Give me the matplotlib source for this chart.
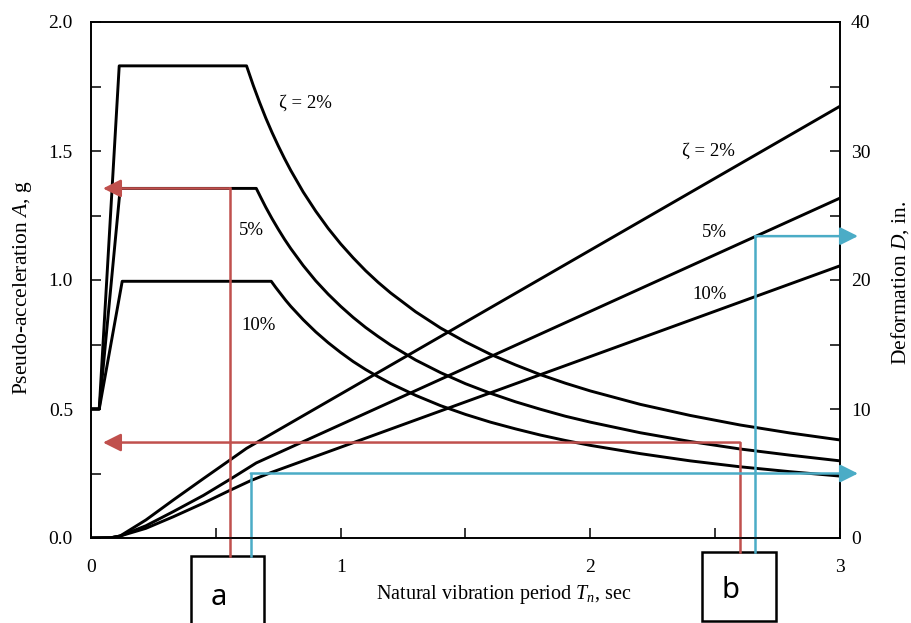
import matplotlib
matplotlib.use("Agg")
import matplotlib.pyplot as plt
from matplotlib.patches import Rectangle
from matplotlib.ticker import MultipleLocator, FormatStrFormatter

plt.rcParams['font.family'] = ['Liberation Serif', 'DejaVu Serif']
plt.rcParams['mathtext.fontset'] = 'custom'
plt.rcParams['mathtext.rm'] = 'Liberation Serif'
plt.rcParams['mathtext.it'] = 'Liberation Serif:italic'

# ---- Pseudo-acceleration spectra (g) ----
period_a_2 = [0, 0.033, 0.113, 0.623, 0.65, 0.675, 0.7, 0.725, 0.75, 0.775, 0.8, 0.85,
              0.9, 0.95, 1.0, 1.05, 1.1, 1.15, 1.2, 1.3, 1.4, 1.5, 1.6, 1.7, 1.8, 1.9,
              2.0, 2.2, 2.4, 2.6, 2.8, 3.0]
accel_2 = [0.5, 0.5, 1.83, 1.83, 1.754, 1.689, 1.628, 1.572, 1.520, 1.471, 1.425, 1.341,
           1.267, 1.200, 1.140, 1.086, 1.036, 0.991, 0.950, 0.877, 0.814, 0.760, 0.712,
           0.671, 0.633, 0.600, 0.570, 0.518, 0.475, 0.438, 0.407, 0.380]

period_a_5 = [0, 0.033, 0.117, 0.662, 0.68, 0.7, 0.725, 0.75, 0.775, 0.8, 0.85, 0.9,
              0.95, 1.0, 1.05, 1.1, 1.15, 1.2, 1.3, 1.4, 1.5, 1.6, 1.7, 1.8, 1.9, 2.0,
              2.2, 2.4, 2.6, 2.8, 3.0]
accel_5 = [0.5, 0.5, 1.355, 1.355, 1.320, 1.282, 1.238, 1.197, 1.158, 1.122, 1.056,
           0.997, 0.945, 0.898, 0.855, 0.816, 0.781, 0.748, 0.690, 0.641, 0.598, 0.561,
           0.528, 0.499, 0.472, 0.449, 0.408, 0.374, 0.345, 0.321, 0.299]

period_a_10 = [0, 0.033, 0.125, 0.722, 0.74, 0.76, 0.78, 0.8, 0.85, 0.9, 0.95, 1.0, 1.05,
               1.1, 1.15, 1.2, 1.3, 1.4, 1.5, 1.6, 1.7, 1.8, 1.9, 2.0, 2.2, 2.4, 2.6,
               2.8, 3.0]
accel_10 = [0.5, 0.5, 0.995, 0.995, 0.971, 0.946, 0.921, 0.898, 0.846, 0.799, 0.757,
            0.719, 0.684, 0.653, 0.625, 0.599, 0.553, 0.513, 0.479, 0.449, 0.423, 0.399,
            0.378, 0.359, 0.327, 0.299, 0.276, 0.257, 0.240]

# ---- Deformation spectra (in.) ----
period_d_2 = [0, 0.08, 0.116, 0.22, 0.33, 0.45, 0.557, 0.623, 3.0]
deform_2 = [0, 0.02, 0.15, 1.4, 2.95, 4.6, 6.05, 6.95, 33.47]

period_d_5 = [0, 0.08, 0.116, 0.22, 0.33, 0.45, 0.557, 0.662, 3.0]
deform_5 = [0, 0.02, 0.15, 0.95, 2.05, 3.3, 4.55, 5.82, 26.35]

period_d_10 = [0, 0.08, 0.116, 0.22, 0.33, 0.45, 0.557, 0.64, 0.722, 3.0]
deform_10 = [0, 0.02, 0.15, 0.75, 1.65, 2.7, 3.7, 4.45, 5.08, 21.1]

# ---- Read-off guides ----
period_a, period_b = 0.557, 2.6            # red guides (acceleration)
period_a_blue, period_b_blue = 0.64, 2.66  # blue guides (deformation)
accel_read_a, accel_read_b = 1.355, 0.37
deform_read_a, deform_read_b = 5.0, 23.4

RED = '#C0504D'
BLUE = '#4BACC6'
LW = 1.8
CURVE_LW = 2.1

fig = plt.figure(figsize=(9.12, 6.23), dpi=100)
ax = fig.add_axes([91 / 912, 1 - 538 / 623, 749 / 912, 516 / 623])
ax2 = ax.twinx()
ax.set_zorder(ax2.get_zorder() + 1)
ax.patch.set_visible(False)

for T, A in [(period_a_2, accel_2), (period_a_5, accel_5), (period_a_10, accel_10)]:
    ax.plot(T, A, color='black', lw=CURVE_LW)
for T, D in [(period_d_2, deform_2), (period_d_5, deform_5), (period_d_10, deform_10)]:
    ax2.plot(T, D, color='black', lw=CURVE_LW)

ax.set_xlim(0, 3)
ax.set_ylim(0, 2)
ax2.set_ylim(0, 40)

ax.xaxis.set_major_locator(MultipleLocator(1))
ax.xaxis.set_minor_locator(MultipleLocator(0.5))
ax.yaxis.set_major_locator(MultipleLocator(0.5))
ax.yaxis.set_minor_locator(MultipleLocator(0.25))
ax.yaxis.set_major_formatter(FormatStrFormatter('%.1f'))
ax2.yaxis.set_major_locator(MultipleLocator(10))
ax2.yaxis.set_minor_locator(MultipleLocator(5))

ax.tick_params(which='both', direction='in', length=7, width=1.1,
               top=False, right=False, labelsize=14)
ax.tick_params(axis='x', which='major', pad=15)
ax.tick_params(axis='y', which='major', pad=13)
ax2.tick_params(which='both', direction='in', length=7.5, width=1.1, labelsize=14, pad=8)

for a in (ax, ax2):
    for s in a.spines.values():
        s.set_linewidth(1.2)

ax.set_xlabel(r'Natural vibration period $T_n$, sec', fontsize=14.5)
ax.xaxis.set_label_coords(0.551, -0.110)
ax.xaxis.label.set_va('center')
ax.set_ylabel(r'Pseudo-acceleration $A$, g', fontsize=15.5, va='center')
ax.yaxis.set_label_coords(-0.091, 0.485)
ax2.set_ylabel(r'Deformation $D$, in.', fontsize=15.5, va='center', rotation=90)
ax2.yaxis.set_label_coords(1.080, 0.494)

# curve labels
lab_kw = dict(fontsize=13.5, ha='center', va='center')
ax.text(0.857, 1.686, 'ζ = 2%', **lab_kw)
ax.text(0.641, 1.19, '5%', **lab_kw)
ax.text(0.673, 0.822, '10%', **lab_kw)
ax2.text(2.475, 30.0, 'ζ = 2%', **lab_kw)
ax2.text(2.495, 23.7, '5%', **lab_kw)
ax2.text(2.479, 18.9, '10%', **lab_kw)

# read-off guides
box_top_a, box_top_b = -0.07, -0.054
arrow_kw = dict(arrowstyle='-|>,head_length=0.9,head_width=0.45', lw=LW,
                mutation_scale=12, shrinkA=0, shrinkB=0)
t2 = ax2.transData

ax.plot([period_a, period_a], [box_top_a, accel_read_a], color=RED, lw=LW, clip_on=False)
ax.annotate('', xy=(0.048, accel_read_a), xytext=(period_a, accel_read_a),
            arrowprops=dict(color=RED, **arrow_kw), annotation_clip=False)
ax.plot([period_b, period_b], [box_top_b, accel_read_b], color=RED, lw=LW, clip_on=False)
ax.annotate('', xy=(0.048, accel_read_b), xytext=(period_b, accel_read_b),
            arrowprops=dict(color=RED, **arrow_kw), annotation_clip=False)

ax.plot([period_a_blue, period_a_blue], [box_top_a * 20, deform_read_a], color=BLUE,
        lw=LW, clip_on=False, transform=t2)
ax.annotate('', xy=(3.072, deform_read_a), xytext=(period_a_blue, deform_read_a),
            xycoords=t2, textcoords=t2,
            arrowprops=dict(color=BLUE, **arrow_kw), annotation_clip=False)
ax.plot([period_b_blue, period_b_blue], [box_top_b * 20, deform_read_b], color=BLUE,
        lw=LW, clip_on=False, transform=t2)
ax.annotate('', xy=(3.072, deform_read_b), xytext=(period_b_blue, deform_read_b),
            xycoords=t2, textcoords=t2,
            arrowprops=dict(color=BLUE, **arrow_kw), annotation_clip=False)

# answer boxes
ax.add_patch(Rectangle((0.400, -0.42), 0.293, 0.42 + box_top_a, fill=False,
                       edgecolor='black', lw=LW, clip_on=False))
ax.add_patch(Rectangle((2.447, -0.322), 0.296, 0.322 + box_top_b, fill=False,
                       edgecolor='black', lw=LW, clip_on=False))
ax.text(0.513, -0.229, 'a', family='Noto Sans', fontsize=21, ha='center', va='center')
ax.text(2.561, -0.205, 'b', family='Noto Sans', fontsize=21, ha='center', va='center')

fig.savefig('out.png', dpi=100)
